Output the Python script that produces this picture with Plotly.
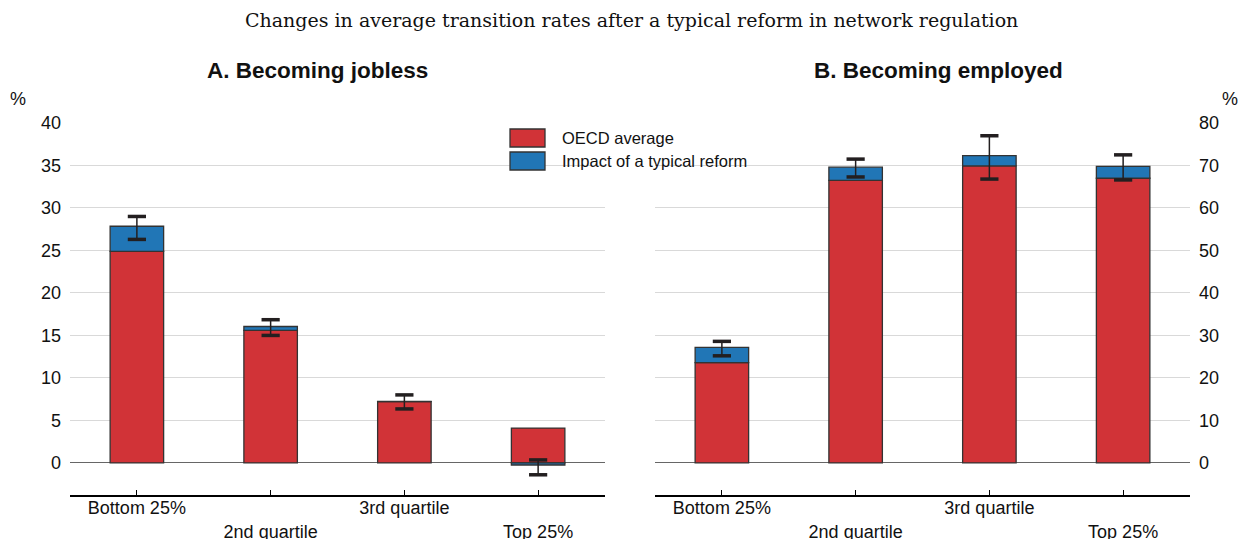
import plotly.graph_objects as go

CATEGORIES = ["Bottom 25%", "2nd quartile", "3rd quartile", "Top 25%"]
TICK_TEXT = ["Bottom 25%", "<br>2nd quartile", "3rd quartile", "<br>Top 25%"]

# Panel A: becoming jobless (%)
jobless_avg = [24.9, 15.6, 7.2, 4.1]
jobless_impact = [2.95, 0.45, 0.05, -0.25]
jobless_ci_high = [29.0, 16.85, 8.0, 0.35]
jobless_ci_low = [26.3, 15.0, 6.35, -1.4]

# Panel B: becoming employed (%)
employed_avg = [23.6, 66.5, 69.9, 67.0]
employed_impact = [3.6, 3.1, 2.4, 2.8]
employed_ci_high = [28.6, 71.5, 77.0, 72.5]
employed_ci_low = [25.2, 67.3, 66.8, 66.6]

SERIES_NAMES = ["OECD average", "Impact of a typical reform"]
RED = "#D13337"
BLUE = "#2176B6"
DARK = "#231F20"
FONT = "Arial, Liberation Sans, sans-serif"

fig = go.Figure()


def add_panel(avg, impact, ci_high, ci_low, xa, ya):
    fig.add_trace(go.Bar(
        x=CATEGORIES, y=avg, name=SERIES_NAMES[0], xaxis=xa, yaxis=ya,
        marker=dict(color=RED, line=dict(color="#333333", width=1.3)),
        width=0.4, showlegend=False,
    ))
    fig.add_trace(go.Bar(
        x=CATEGORIES, y=impact, name=SERIES_NAMES[1], xaxis=xa, yaxis=ya,
        marker=dict(color=BLUE, line=dict(color="#333333", width=1.3)),
        width=0.4, showlegend=False,
    ))
    # stem from low to high bound, hung off the upper cap
    fig.add_trace(go.Scatter(
        x=CATEGORIES, y=ci_high, xaxis=xa, yaxis=ya, mode="markers",
        marker=dict(symbol="line-ew", size=13, line=dict(color=DARK, width=3.5)),
        error_y=dict(type="data", symmetric=False, array=[0] * len(ci_high),
                     arrayminus=[h - l for h, l in zip(ci_high, ci_low)],
                     color=DARK, thickness=1.5, width=0),
        showlegend=False, hoverinfo="skip",
    ))
    fig.add_trace(go.Scatter(
        x=CATEGORIES, y=ci_low, xaxis=xa, yaxis=ya, mode="markers",
        marker=dict(symbol="line-ew", size=13, line=dict(color=DARK, width=3.5)),
        showlegend=False, hoverinfo="skip",
    ))


add_panel(jobless_avg, jobless_impact, jobless_ci_high, jobless_ci_low, "x", "y")
add_panel(employed_avg, employed_impact, employed_ci_high, employed_ci_low, "x2", "y2")

# page body has an 8px margin, so the figure is a bit smaller than the window
OFF = 8
W, H = 1249 - OFF, 539 - OFF


def px(x):
    return (x - OFF) / W


def py(y):
    return 1 - (y - OFF) / H


ydom = [py(495), py(123)]

xaxis_common = dict(
    type="category", tickmode="array", tickvals=CATEGORIES, ticktext=TICK_TEXT,
    range=[-0.5, 3.5], showgrid=False, zeroline=False,
    showline=True, linecolor="black", linewidth=1.5,
    ticks="inside", ticklen=5, tickcolor="black", tickwidth=1,
    tickfont=dict(size=18, color="#111111"), automargin=False,
    ticklabelstandoff=-4,
)
yaxis_common = dict(
    showgrid=True, gridcolor="#D9D9D9", gridwidth=1,
    zeroline=True, zerolinecolor="#666666", zerolinewidth=1.3,
    showline=False, ticks="", tickfont=dict(size=18, color="#111111"),
    automargin=False, domain=ydom, ticklabelstandoff=8,
)

fig.update_layout(
    width=W, height=H,
    paper_bgcolor="white", plot_bgcolor="white",
    margin=dict(l=0, r=0, t=0, b=0),
    barmode="relative",
    font=dict(family=FONT, color="#111111"),
    xaxis=dict(domain=[px(70), px(605)], anchor="y", **xaxis_common),
    xaxis2=dict(domain=[px(655), px(1190)], anchor="y2", **xaxis_common),
    yaxis=dict(range=[-3.78, 40], tickvals=list(range(0, 41, 5)), anchor="x",
               side="left", **yaxis_common),
    yaxis2=dict(range=[-7.56, 80], tickvals=list(range(0, 81, 10)), anchor="x2",
                side="right", **yaxis_common),
)

annotations = [
    dict(text="Changes in average transition rates after a typical reform in network regulation",
         x=px(631), y=py(20), font=dict(family="DejaVu Serif, serif", size=19, color="#111111")),
    dict(text="<b>A. Becoming jobless</b>", x=px(317), y=py(70), font=dict(size=22.5)),
    dict(text="<b>B. Becoming employed</b>", x=px(938), y=py(70), font=dict(size=22.5)),
    dict(text="%", x=px(18), y=py(99), font=dict(size=18)),
    dict(text="%", x=px(1230), y=py(99), font=dict(size=18)),
]
for a in annotations:
    a.update(xref="paper", yref="paper", showarrow=False, xanchor="center", yanchor="middle")

# legend drawn by hand to get the wide swatches
for i, (name, color) in enumerate(zip(SERIES_NAMES, [RED, BLUE])):
    yc = 138 + i * 23
    fig.add_shape(type="rect", xref="paper", yref="paper",
                  x0=px(510), x1=px(545), y0=py(yc + 9), y1=py(yc - 9),
                  fillcolor=color, line=dict(color="#333333", width=1.3))
    annotations.append(dict(text=name, xref="paper", yref="paper", x=px(560), y=py(yc),
                            xanchor="left", yanchor="middle", showarrow=False,
                            font=dict(size=16.5, color="#111111")))

fig.update_layout(annotations=annotations)

fig.write_html("out.html")
